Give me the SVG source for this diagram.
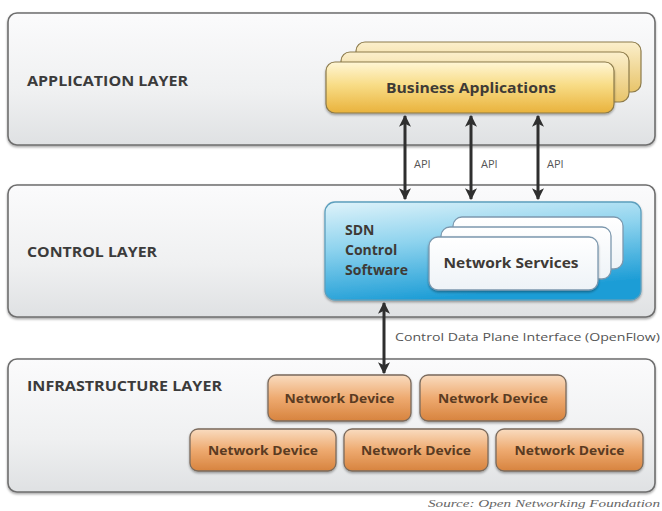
<svg xmlns="http://www.w3.org/2000/svg" width="662" height="511" viewBox="0 0 662 511">
  <defs>
    <linearGradient id="gLayer" x1="0" y1="0" x2="0" y2="1">
      <stop offset="0" stop-color="#fbfbfc"/>
      <stop offset="0.6" stop-color="#eff0f1"/>
      <stop offset="1" stop-color="#dfe1e3"/>
    </linearGradient>
    <linearGradient id="gBiz" x1="0" y1="0" x2="0" y2="1">
      <stop offset="0" stop-color="#fff6d6"/>
      <stop offset="0.45" stop-color="#f8dc86"/>
      <stop offset="1" stop-color="#e9b23c"/>
    </linearGradient>
    <linearGradient id="gBizBack" x1="0" y1="0" x2="0" y2="1">
      <stop offset="0" stop-color="#fbefcc"/>
      <stop offset="1" stop-color="#e8c46a"/>
    </linearGradient>
    <linearGradient id="gSdn" x1="0" y1="0" x2="0.3" y2="1">
      <stop offset="0" stop-color="#dff3fa"/>
      <stop offset="0.45" stop-color="#8ed3ee"/>
      <stop offset="1" stop-color="#1d9dd6"/>
    </linearGradient>
    <linearGradient id="gSvc" x1="0" y1="0" x2="0" y2="1">
      <stop offset="0" stop-color="#ffffff"/>
      <stop offset="1" stop-color="#eef3f7"/>
    </linearGradient>
    <linearGradient id="gDev" x1="0" y1="0" x2="0" y2="1">
      <stop offset="0" stop-color="#f9dcc0"/>
      <stop offset="0.5" stop-color="#eeaa70"/>
      <stop offset="1" stop-color="#d7833e"/>
    </linearGradient>
    <filter id="shadow" x="-5%" y="-10%" width="110%" height="125%">
      <feDropShadow dx="0" dy="1.5" stdDeviation="1.2" flood-color="#000" flood-opacity="0.35"/>
    </filter>
    <marker id="head" viewBox="0 0 10 10" refX="9" refY="5" markerWidth="4" markerHeight="4" orient="auto-start-reverse">
      <path d="M0,0 L10,5 L0,10 L2.5,5 Z" fill="#2f2f2f"/>
    </marker>
    <style>
      .layer { fill: url(#gLayer); stroke: #6e6e6e; stroke-width: 1.6; }
      .layerLabel { font-family: "Open Sans", "DejaVu Sans", sans-serif; font-weight: bold; font-size: 14px; fill: #3b3b3b; }
      .biz { fill: url(#gBiz); stroke: #8c7a4a; stroke-width: 1.2; }
      .bizBack { fill: url(#gBizBack); stroke: #8c7a4a; stroke-width: 1.2; }
      .sdn { fill: url(#gSdn); stroke: #5c9fbd; stroke-width: 1.3; }
      .svc { fill: url(#gSvc); stroke: #7c98ae; stroke-width: 1.3; }
      .dev { fill: url(#gDev); stroke: #7a6a5c; stroke-width: 1.3; }
      .boxText { font-family: "Open Sans", "DejaVu Sans", sans-serif; font-weight: bold; fill: #3e3a36; }
      .devText { font-family: "Open Sans", "DejaVu Sans", sans-serif; font-weight: bold; font-size: 13px; fill: #5a3b22; }
      .small { font-family: "Open Sans", "DejaVu Sans", sans-serif; font-size: 11px; fill: #555; }
      .link { stroke: #2f2f2f; stroke-width: 3; fill: none; marker-start: url(#head); marker-end: url(#head); }
    </style>
  </defs>

  <rect width="662" height="511" fill="#ffffff"/>

  <!-- layer panels -->
  <g id="application-layer">
    <rect class="layer" x="8" y="13" width="647" height="132" rx="9" filter="url(#shadow)"/>
    <text class="layerLabel" x="27" y="86" textLength="161" lengthAdjust="spacingAndGlyphs">APPLICATION LAYER</text>
  </g>
  <g id="control-layer">
    <rect class="layer" x="8" y="185" width="647" height="132" rx="9" filter="url(#shadow)"/>
    <text class="layerLabel" x="27" y="257" textLength="130" lengthAdjust="spacingAndGlyphs">CONTROL LAYER</text>
  </g>
  <g id="infrastructure-layer">
    <rect class="layer" x="8" y="359" width="647" height="133" rx="9" filter="url(#shadow)"/>
    <text class="layerLabel" x="27" y="391" textLength="195" lengthAdjust="spacingAndGlyphs">INFRASTRUCTURE LAYER</text>
  </g>

  <!-- business applications (stacked) -->
  <g id="business-applications">
    <rect class="bizBack" x="356" y="42" width="285" height="50" rx="9"/>
    <rect class="bizBack" x="341" y="52" width="288" height="50" rx="9"/>
    <rect class="biz" x="326" y="62" width="288" height="51" rx="9" filter="url(#shadow)"/>
    <text class="boxText" x="471" y="93" font-size="15" text-anchor="middle" textLength="170" lengthAdjust="spacingAndGlyphs">Business Applications</text>
  </g>

  <!-- SDN control software -->
  <g id="sdn-control-software">
    <rect class="sdn" x="325" y="202" width="316" height="98" rx="10" filter="url(#shadow)"/>
    <text class="boxText" font-size="14" fill="#3a4652">
      <tspan x="345" y="235">SDN</tspan>
      <tspan x="345" y="255">Control</tspan>
      <tspan x="345" y="275">Software</tspan>
    </text>
  </g>

  <!-- network services (stacked) -->
  <g id="network-services">
    <rect class="svc" x="453" y="217" width="170" height="52" rx="9"/>
    <rect class="svc" x="441" y="227" width="170" height="52" rx="9"/>
    <rect class="svc" x="429" y="237" width="169" height="53" rx="9" filter="url(#shadow)"/>
    <text class="boxText" x="511" y="268" font-size="15" text-anchor="middle" textLength="135" lengthAdjust="spacingAndGlyphs">Network Services</text>
  </g>

  <!-- network devices -->
  <g id="device-1">
    <rect class="dev" x="268" y="375" width="143" height="46" rx="8" filter="url(#shadow)"/>
    <text class="devText" x="339.5" y="403" text-anchor="middle" textLength="110" lengthAdjust="spacingAndGlyphs">Network Device</text>
  </g>
  <g id="device-2">
    <rect class="dev" x="420" y="375" width="146" height="46" rx="8" filter="url(#shadow)"/>
    <text class="devText" x="493" y="403" text-anchor="middle" textLength="110" lengthAdjust="spacingAndGlyphs">Network Device</text>
  </g>
  <g id="device-3">
    <rect class="dev" x="190" y="429" width="146" height="42" rx="8" filter="url(#shadow)"/>
    <text class="devText" x="263" y="455" text-anchor="middle" textLength="110" lengthAdjust="spacingAndGlyphs">Network Device</text>
  </g>
  <g id="device-4">
    <rect class="dev" x="344" y="429" width="144" height="42" rx="8" filter="url(#shadow)"/>
    <text class="devText" x="416" y="455" text-anchor="middle" textLength="110" lengthAdjust="spacingAndGlyphs">Network Device</text>
  </g>
  <g id="device-5">
    <rect class="dev" x="496" y="429" width="147" height="42" rx="8" filter="url(#shadow)"/>
    <text class="devText" x="569.5" y="455" text-anchor="middle" textLength="110" lengthAdjust="spacingAndGlyphs">Network Device</text>
  </g>

  <!-- connectors -->
  <g id="connectors">
    <line class="link" x1="405" y1="116" x2="405" y2="199"/>
    <line class="link" x1="471" y1="116" x2="471" y2="199"/>
    <line class="link" x1="538" y1="116" x2="538" y2="199"/>
    <line class="link" x1="384" y1="303" x2="384" y2="373"/>
    <text class="small" x="414" y="168">API</text>
    <text class="small" x="481" y="168">API</text>
    <text class="small" x="547" y="168">API</text>
    <text class="small" x="395" y="341" font-size="12" textLength="265" lengthAdjust="spacingAndGlyphs">Control Data Plane Interface (OpenFlow)</text>
  </g>

  <text x="660" y="507" text-anchor="end" font-family="'Liberation Serif', serif" font-style="italic" font-size="10.5" fill="#666" textLength="232" lengthAdjust="spacingAndGlyphs">Source: Open Networking Foundation</text>
</svg>
